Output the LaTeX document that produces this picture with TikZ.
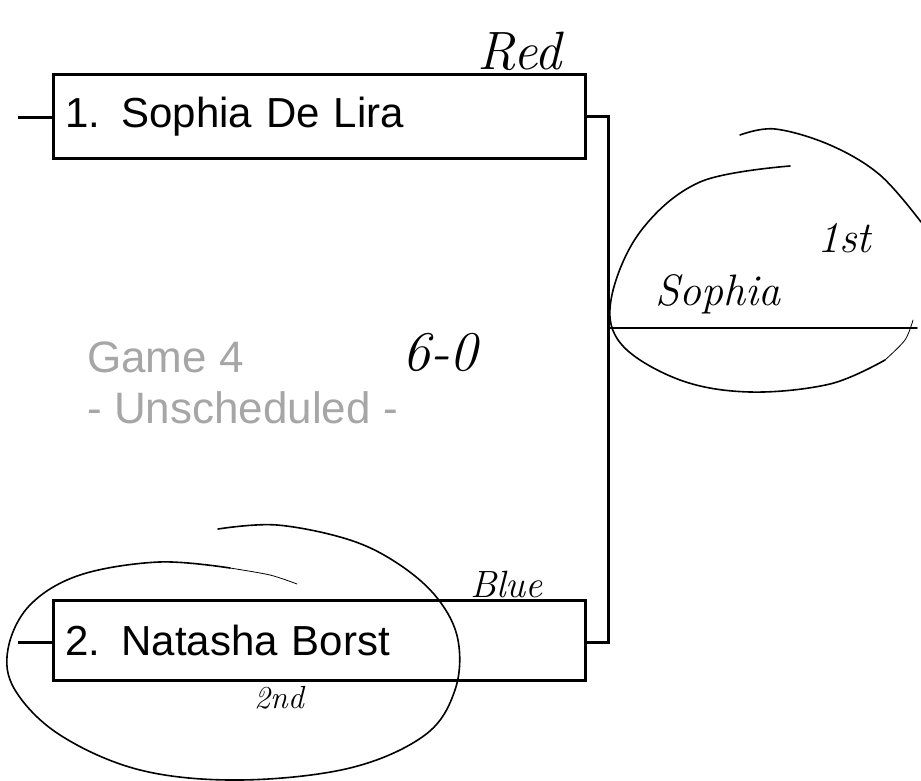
\documentclass[tikz,border=0pt]{standalone}
\usepackage{fontspec}
\newfontfamily\printfont{Liberation Sans}
\begin{document}
\begin{tikzpicture}[x=1pt,y=-1pt,
  entrant/.style={draw, line width=3pt, anchor=north west, inner xsep=12pt, inner ysep=0pt,
    text width=508pt, align=left, font=\printfont\fontsize{42}{46}\selectfont},
  wire/.style={line width=3pt},
  pen/.style={line width=1.6pt, line cap=round, line join=round},
  faint/.style={line width=0.8pt, line cap=round},
  hand/.style={font=\itshape\fontsize{#1}{#1}\selectfont, inner sep=0pt},
  info/.style={font=\printfont\fontsize{44}{48}\selectfont, text=black!35, inner sep=0pt, anchor=base west}]
\useasboundingbox (0,0) rectangle (921,781);
% entrant boxes
\node[entrant, minimum height=84pt] (top) at (52,73) {1. Sophia De Lira};
\node[entrant, minimum height=80pt] (bot) at (52,599) {2. Natasha Borst};
% stubs and bracket connector
\coordinate (s1) at (18,118);
\coordinate (s2) at (18,642);
\coordinate (j1) at (608,117);
\coordinate (j2) at (608,642);
\draw[wire] (s1) -- (s1 -| top.west);
\draw[wire] (s2) -- (s2 -| bot.west);
\draw[wire] (j1 -| top.east) -- (j1) -- (j2) -- (j2 -| bot.east);
% game info
\node[info] (game) at (87,372) {Game 4};
\node[info] (unsch) at (87,423) {- Unscheduled -};
% winner line
\coordinate (w1) at (609,328);
\coordinate (w2) at (917,328);
\draw[pen] (w1) -- (w2);
% handwriting
\node[hand=54, anchor=base west] (red) at (477,70) {Red};
\node[hand=38, anchor=base west] (blue) at (470,597) {Blue};
\node[hand=32] (second) at (279,698) {2nd};
\node[hand=44, anchor=base west] (sophia) at (655,305) {Sophia};
\node[hand=44, anchor=base west] (first) at (817,252) {1st};
\node[hand=56] (score) at (440,352) {6-0};
% loops
\draw[pen] plot[smooth, tension=0.6] coordinates {(790,166) (700,182) (640,232) (611,300) (622,345) (680,380) (750,392) (830,384) (885,360)};
\draw[faint] plot[smooth] coordinates {(885,360) (905,340) (913,320)};
\draw[pen] plot[smooth, tension=0.6] coordinates {(740,135) (775,129) (830,145) (880,175) (921,222)};
\draw[pen] plot[smooth, tension=0.6] coordinates {(218,529) (277,525) (350,540) (400,565) (438,599) (458,640) (455,690) (425,735) (350,768) (240,780) (140,770) (60,735) (15,690) (8,649) (30,605) (80,575) (159,562) (230,568)};
\draw[faint] plot[smooth] coordinates {(230,568) (270,575) (297,584)};
\end{tikzpicture}
\end{document}
